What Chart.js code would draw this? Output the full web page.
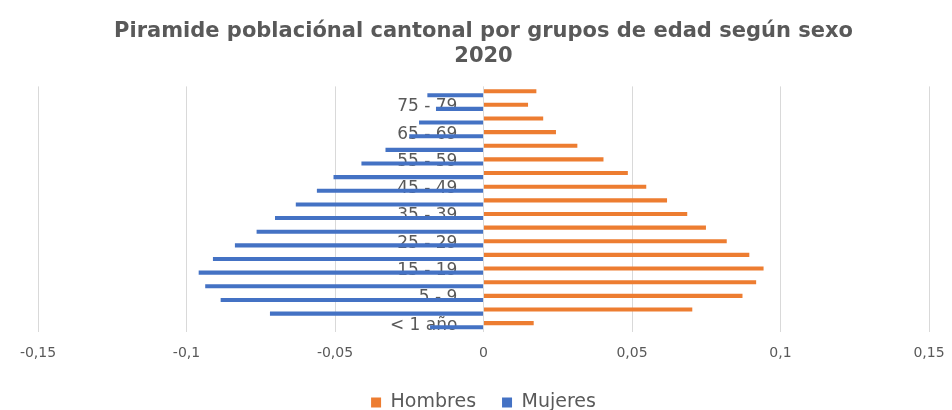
<!DOCTYPE html>
<html>
<head>
<meta charset="utf-8">
<script src="https://cdn.jsdelivr.net/npm/chart.js"></script>
<style>
  html, body { margin: 0; padding: 0; background: #ffffff; overflow: hidden; }
  /* el lienzo es algo más alto que la ventana: el margen bajo de la leyenda queda fuera */
  #wrap { width: 952px; height: 422px; }
</style>
</head>
<body>
<div id="wrap"><canvas id="myChart"></canvas></div>
<script>
// grupos de edad, de menor a mayor
const grupos = ['< 1 año', '1 - 4', '5 - 9', '10 - 14', '15 - 19', '20 - 24', '25 - 29', '30 - 34',
    '35 - 39', '40 - 44', '45 - 49', '50 - 54', '55 - 59', '60 - 64', '65 - 69', '70 - 74',
    '75 - 79', '80 y más'];

// proporción de población por grupo (hombres positivos, mujeres negativos)
const hombres = [0.0169, 0.0703, 0.0872, 0.0918, 0.0943, 0.0895, 0.0819, 0.0749, 0.0686,
    0.0618, 0.0548, 0.0486, 0.0404, 0.0316, 0.0244, 0.0201, 0.0150, 0.0178];
const mujeres = [-0.0180, -0.0719, -0.0885, -0.0937, -0.0959, -0.0911, -0.0837, -0.0764, -0.0702,
    -0.0632, -0.0561, -0.0505, -0.0411, -0.0330, -0.0250, -0.0217, -0.0160, -0.0189];

const ejeX = [-0.15, -0.1, -0.05, 0, 0.05, 0.1, 0.15];

const gris = '#595959';
Chart.defaults.font.family = '"DejaVu Sans", Verdana, sans-serif';
Chart.defaults.color = gris;

drawChart();

function coma(v){ // 0.05 -> 0,05
    return String(Math.round(v * 100) / 100).replace('.', ',');
}

function drawChart(){
    const ctx = document.querySelector('#myChart');

    new Chart(ctx, {
        type: 'bar',
        data: {
            labels: grupos,
            datasets: [
                { label: 'Hombres', data: hombres, backgroundColor: '#ED7D31' },
                { label: 'Mujeres', data: mujeres, backgroundColor: '#4472C4' }
            ]
        },
        options: {
            indexAxis: 'y',
            responsive: true,
            maintainAspectRatio: false,
            animation: false,
            categoryPercentage: 0.6,
            barPercentage: 1.0,
            layout: { padding: { left: 38, right: 23, top: 0, bottom: 0 } },
            scales: {
                x: {
                    min: ejeX[0],
                    max: ejeX[ejeX.length - 1],
                    afterBuildTicks: (axis) => { axis.ticks = ejeX.map(v => ({ value: v })); },
                    afterFit: (axis) => { // sin margen extra por las etiquetas de los extremos
                        axis.paddingLeft = 0;
                        axis.paddingRight = 0;
                        axis.height = 35;
                    },
                    grid: { color: '#d9d9d9', drawTicks: false },
                    border: { display: false },
                    ticks: {
                        padding: 13,
                        font: { size: 14 },
                        callback: (v) => coma(v)
                    }
                },
                y: {
                    reverse: true,
                    position: { x: -0.0088 }, // etiquetas junto al eje central
                    z: 1,
                    border: { display: false },
                    grid: { display: false },
                    ticks: {
                        autoSkip: false,
                        font: { size: 17 },
                        callback: function(v, i){ return i % 2 === 0 ? grupos[i] : ''; }
                    }
                }
            },
            plugins: {
                title: {
                    display: true,
                    text: ['Piramide poblaciónal cantonal por grupos de edad según sexo', '2020'],
                    font: { size: 21, weight: 'bold' },
                    color: gris,
                    padding: { top: 19, bottom: 17 },
                    lineHeight: 1.05
                },
                legend: {
                    position: 'bottom',
                    labels: {
                        boxWidth: 10,
                        boxHeight: 10,
                        font: { size: 19 },
                        padding: 26
                    }
                },
                tooltip: { enabled: false }
            }
        }
    });
}
</script>
</body>
</html>
